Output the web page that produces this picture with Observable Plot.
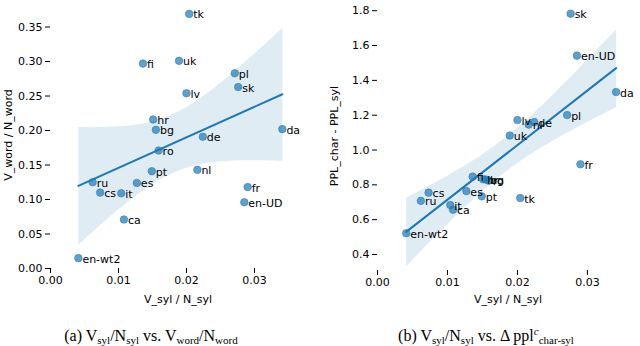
<!DOCTYPE html>
<html>
<head>
<meta charset="utf-8">
<script src="https://cdn.jsdelivr.net/npm/d3@7"></script>
<script src="https://cdn.jsdelivr.net/npm/@observablehq/plot@0.6"></script>
<style>
  html, body { margin: 0; padding: 0; background: #fff; }
  #wrap { position: relative; width: 640px; height: 346px; overflow: hidden; }
  .fig { position: absolute; top: 0; width: 320px; }
  .cap { position: absolute; top: 327px; width: 320px; text-align: center; line-height: 18px;
         font-family: "Liberation Serif", "DejaVu Serif", serif; font-size: 16px; color: #000; white-space: nowrap; }
  .cap sub { font-size: 11px; vertical-align: -3px; line-height: 0; }
  .cap sup { font-size: 11px; vertical-align: 6px; line-height: 0; }
</style>
</head>
<body>
<div id="wrap">
  <div class="fig" id="figA" style="left:0px"></div>
  <div class="fig" id="figB" style="left:320px"></div>
  <div class="cap" style="left:-9px">(a) V<sub>syl</sub>/N<sub>syl</sub> vs. V<sub>word</sub>/N<sub>word</sub></div>
  <div class="cap" style="left:326px">(b) V<sub>syl</sub>/N<sub>syl</sub> vs. Δ ppl<sup><i>c</i></sup><sub>char-syl</sub></div>
</div>
<script>
// Languages
const langs = ["tk","fi","uk","pl","sk","lv","hr","bg","da","de","ro","pt","nl","ru","es","cs","it","fr","en-UD","ca","en-wt2"];
// V_syl / N_syl (shared x)
const vSyl = [0.0204,0.0136,0.0189,0.0271,0.0276,0.0200,0.0151,0.0155,0.0341,0.0224,0.0159,0.0149,0.0216,0.0062,0.0127,0.0073,0.0104,0.0290,0.0285,0.0108,0.0041];
// V_word / N_word (panel a)
const vWord = [0.369,0.297,0.301,0.283,0.263,0.254,0.216,0.201,0.202,0.191,0.171,0.141,0.143,0.125,0.124,0.110,0.109,0.118,0.096,0.071,0.015];
// PPL_char - PPL_syl (panel b)
const pplDiff = [0.724,0.847,1.083,1.201,1.783,1.172,0.832,0.830,1.333,1.160,0.824,0.734,1.146,0.708,0.764,0.755,0.684,0.918,1.542,0.657,0.522];

// tick values
const xTicks = [0, 0.01, 0.02, 0.03];
const yTicksA = [0, 0.05, 0.10, 0.15, 0.20, 0.25, 0.30, 0.35];
const yTicksB = [0.4, 0.6, 0.8, 1.0, 1.2, 1.4, 1.6, 1.8];

const dataA = langs.map((l, i) => ({lang: l, x: vSyl[i], y: vWord[i]}));
const dataB = langs.map((l, i) => ({lang: l, x: vSyl[i], y: pplDiff[i]}));

const blue = "#1f77b4";
const font = {fontFamily: "DejaVu Sans, sans-serif", fontSize: "11px", color: "#000", background: "#fff"};

function panel(data, opts) {
  return Plot.plot({
    width: 320,
    height: 306,
    marginTop: 1,
    marginLeft: opts.marginLeft,
    marginRight: opts.marginRight,
    marginBottom: opts.marginBottom,
    style: font,
    x: {domain: opts.xDomain, line: true},
    y: {domain: opts.yDomain, line: true},
    marks: [
      Plot.axisX({ticks: xTicks, tickFormat: d3.format(".2f"), tickSize: 5, tickPadding: 3,
        label: "V_syl / N_syl", labelAnchor: "center", labelArrow: "none", labelOffset: opts.xLabelOffset}),
      Plot.axisY({ticks: opts.yTicks, tickFormat: d3.format(opts.yFmt), tickSize: 5, tickPadding: 3,
        label: opts.yLabel, labelAnchor: "center", labelArrow: "none", labelOffset: opts.yLabelOffset}),
      Plot.linearRegressionY(data, {x: "x", y: "y", stroke: blue, strokeWidth: 2, fill: blue, fillOpacity: 0.14, ci: 0.97}),
      Plot.dot(data, {x: "x", y: "y", r: 3.8, fill: blue, fillOpacity: 0.7, stroke: blue, strokeOpacity: 0.5, strokeWidth: 1}),
      Plot.text(data, {x: "x", y: "y", text: "lang", textAnchor: "start", dx: 4, dy: 1, fill: "#000", fontSize: 11})
    ]
  });
}

document.getElementById("figA").append(panel(dataA, {
  marginLeft: 50, marginRight: 15, marginBottom: 38,
  xDomain: [0, 0.0375], yDomain: [0, 0.387],
  yTicks: yTicksA, yFmt: ".2f", yLabel: "V_word / N_word",
  xLabelOffset: 34, yLabelOffset: 46
}));
document.getElementById("figB").append(panel(dataB, {
  marginLeft: 57, marginRight: 2, marginBottom: 36,
  xDomain: [0, 0.0373], yDomain: [0.308, 1.853],
  yTicks: yTicksB, yFmt: ".1f", yLabel: "PPL_char - PPL_syl",
  xLabelOffset: 32, yLabelOffset: 47
}));
</script>
</body>
</html>
